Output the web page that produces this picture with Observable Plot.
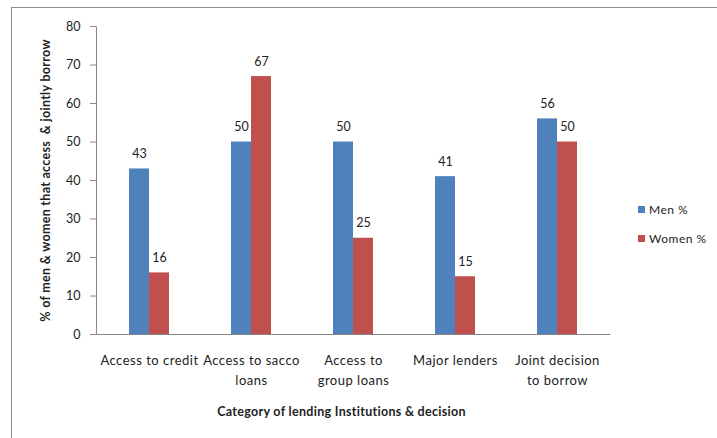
<!DOCTYPE html>
<html>
<head>
<meta charset="utf-8">
<script src="https://cdn.jsdelivr.net/npm/d3@7"></script>
<script src="https://cdn.jsdelivr.net/npm/@observablehq/plot@0.6"></script>
<style>
  html, body { margin: 0; padding: 0; background: #fff; }
  #wrap { position: relative; width: 717px; height: 438px; overflow: hidden; font-family: Lato, "Open Sans", sans-serif; }
  #border { position: absolute; left: 11px; top: 7px; width: 900px; height: 600px; border-top: 1px solid #8c8c8c; border-left: 1px solid #8c8c8c; }
  #chart { position: absolute; left: 0; top: 0; }
  .legend { position: absolute; left: 638px; font-size: 12px; color: #222; display: flex; align-items: center; letter-spacing: 0.5px; }
  .legend .sw { width: 7px; height: 7px; margin-right: 4px; }
  .cat text { letter-spacing: 0.5px; }
  .ttl text { letter-spacing: 0.3px; }
</style>
</head>
<body>
<div id="wrap">
  <div id="border"></div>
  <div id="chart"></div>
  <div id="legend"></div>
</div>
<script>
const categories = ["Access to credit", "Access to sacco\nloans", "Access to\ngroup loans", "Major lenders", "Joint decision\nto borrow"];
const menValues = [43, 50, 50, 41, 56];
const womenValues = [16, 67, 25, 15, 50];
const seriesNames = ["Men %", "Women %"];
const seriesColors = ["#4f81bd", "#c0504d"];
const yTicks = [0, 10, 20, 30, 40, 50, 60, 70, 80];
const xTitle = "Category of lending Institutions & decision";
const yTitle = "% of men & women that access  & jointly borrow";

const rows = categories.map((c, i) => ({cat: c, men: menValues[i], women: womenValues[i]}));

const font = "Lato, 'Open Sans', sans-serif";
const chart = Plot.plot({
  width: 717,
  height: 438,
  marginLeft: 96,
  marginRight: 107,
  marginTop: 26,
  marginBottom: 104,
  style: {fontFamily: font, fontSize: "12px", color: "#222", background: "transparent"},
  x: {domain: categories, paddingInner: 0.611, paddingOuter: 0.3055},
  y: {domain: [0, 80]},
  marks: [
    Plot.barY(rows, {x: "cat", y: "men", fill: seriesColors[0], insetRight: 20, insetLeft: 0}),
    Plot.barY(rows, {x: "cat", y: "women", fill: seriesColors[1], insetLeft: 20, insetRight: 0}),
    Plot.text(rows, {x: "cat", y: "men", text: d => String(d.men), dx: -10, dy: -15, fontSize: 12.5, fill: "#222"}),
    Plot.text(rows, {x: "cat", y: "women", text: d => String(d.women), dx: 10, dy: -15, fontSize: 12.5, fill: "#222"}),
    Plot.frame({stroke: "#868686", strokeDasharray: "0,822,822"}),
    Plot.axisY({ticks: yTicks, tickSize: 6, tickPadding: 10, stroke: "#868686", label: null, fontSize: 12.5, tickFormat: d => String(d), fill: "#222"}),
    Plot.axisX({tickSize: 0, tickPadding: 16, label: null, fontSize: 13, lineHeight: 1.55, fill: "#222", className: "cat"}),
    Plot.text([yTitle], {frameAnchor: "left", textAnchor: "middle", rotate: -90, dx: -51, fontWeight: "bold", fontSize: 12.5, fill: "#222", className: "ttl"}),
    Plot.text([xTitle], {frameAnchor: "bottom", textAnchor: "middle", dy: 81, dx: -12, fontWeight: "bold", fontSize: 12.5, fill: "#222", className: "ttl"})
  ]
});
document.getElementById("chart").appendChild(chart);

const legend = document.getElementById("legend");
seriesNames.forEach((name, i) => {
  const item = document.createElement("div");
  item.className = "legend";
  item.style.top = (202 + i * 29) + "px";
  const sw = document.createElement("div");
  sw.className = "sw";
  sw.style.background = seriesColors[i];
  const label = document.createElement("span");
  label.textContent = name;
  item.appendChild(sw);
  item.appendChild(label);
  legend.appendChild(item);
});
</script>
</body>
</html>
